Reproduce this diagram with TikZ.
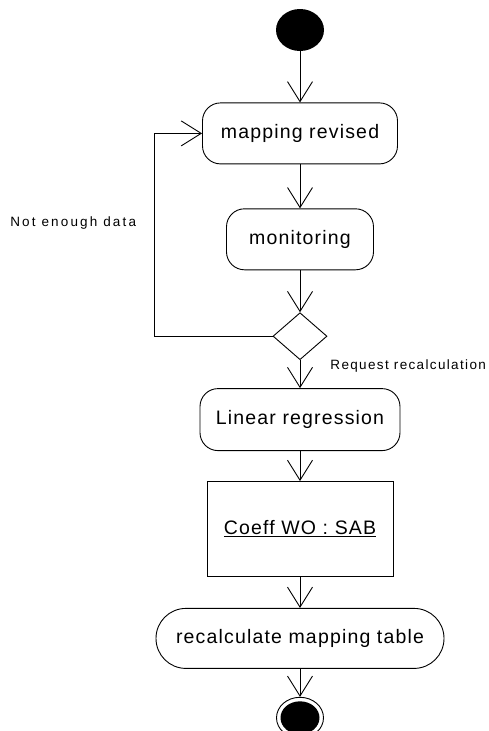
\documentclass[tikz,border=0pt]{standalone}
\usepackage{fontspec}
\setmainfont{Liberation Sans}
\newfontfamily\boxfont[LetterSpace=6]{Liberation Sans}
\newfontfamily\notefont[LetterSpace=10]{Liberation Sans}
\newfontfamily\widenotefont[LetterSpace=16]{Liberation Sans}
\usetikzlibrary{arrows.meta,shapes.geometric,positioning}

\begin{document}
\begin{tikzpicture}[
  line width=0.9pt,
  actbox/.style={rectangle, draw, rounded corners=18pt, minimum height=61pt, inner sep=0pt,
    font=\boxfont\fontsize{19.5}{22}\selectfont},
  objbox/.style={rectangle, draw, minimum height=95pt, inner sep=0pt,
    font=\boxfont\fontsize{19.5}{22}\selectfont},
  decision/.style={diamond, draw, minimum width=54pt, minimum height=47pt, inner sep=0pt},
  startdot/.style={ellipse, fill, minimum width=48pt, minimum height=42pt, inner sep=0pt},
  note/.style={inner sep=0pt, font=\notefont\fontsize{13.5}{16}\selectfont},
  flow/.style={-{Straight Barb[length=20pt, width=25pt]}}
]
  \useasboundingbox (0,0) rectangle (488pt,-731pt);

  \node[startdot] (start) at (300pt,-30pt) {};
  \node[actbox, minimum width=195pt, below=51pt of start] (map) {mapping revised};
  \node[actbox, minimum width=147pt, below=44pt of map] (monitor) {monitoring};
  \node[decision, below=42pt of monitor] (dia) {};
  \node[actbox, minimum width=200pt, minimum height=62pt, below=28pt of dia] (linreg) {Linear regression};
  \node[objbox, minimum width=186pt, below=30pt of linreg] (coeff) {\underline{Coeff WO : SAB}};
  \node[actbox, rounded corners=29.9pt, minimum width=288pt, minimum height=60pt, below=31pt of coeff] (recalc) {recalculate mapping table};
  \node[ellipse, draw, minimum width=47pt, minimum height=41pt, inner sep=0pt, below=28pt of recalc] (stop) {};
  \node[startdot, minimum width=39pt, minimum height=33pt] (stopdot) at (stop) {};

  \draw[flow] (start) -- (map);
  \draw[flow] (map) -- (monitor);
  \draw[flow] (monitor) -- (dia);
  \draw[flow] (dia) -- (linreg);
  \draw[flow] (linreg) -- (coeff);
  \draw[flow] (coeff) -- (recalc);
  \draw[flow] (recalc) -- (stop);

  % loop back when there is too little data
  \draw[flow] (dia.west) -- ++(-118pt,0) |- node[note, font=\widenotefont\fontsize{13.5}{16}\selectfont, pos=0.28, left=18pt] (nodata) {Not enough data} (map.west);
  \node[note, right=30pt of dia.south, yshift=-6pt] (request) {Request recalculation};
\end{tikzpicture}
\end{document}
